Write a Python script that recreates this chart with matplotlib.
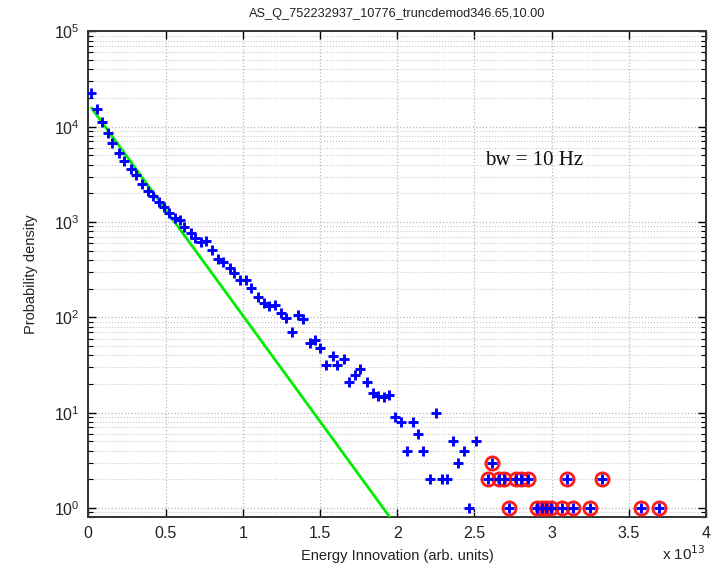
import matplotlib
matplotlib.use("Agg")
import matplotlib.pyplot as plt
from matplotlib.ticker import LogLocator, NullFormatter, FixedLocator

# ---- data (x in units of 1e13) ----
energy = [0.017, 0.054, 0.089, 0.128, 0.154, 0.201, 0.233, 0.275, 0.307, 0.346,
          0.385, 0.421, 0.460, 0.490, 0.525, 0.560, 0.591, 0.622, 0.664, 0.694,
          0.727, 0.762, 0.801, 0.839, 0.872, 0.915, 0.945, 0.983, 1.021, 1.055,
          1.096, 1.135, 1.170, 1.206, 1.248, 1.280, 1.317, 1.360, 1.393, 1.436,
          1.468, 1.501, 1.540, 1.583, 1.613, 1.656, 1.689, 1.727, 1.760, 1.803,
          1.842, 1.876, 1.912, 1.948, 1.986, 2.023, 2.062, 2.101, 2.137, 2.170,
          2.213, 2.252, 2.289, 2.325, 2.360, 2.396, 2.435, 2.468, 2.509, 2.587,
          2.613, 2.662, 2.694, 2.727, 2.770, 2.803, 2.846, 2.904, 2.937, 2.964,
          2.997, 3.066, 3.098, 3.141, 3.249, 3.329, 3.582, 3.696]
density = [22400, 15450, 11120, 8530, 6700, 5260, 4370, 3610, 3120, 2510,
           2130, 1880, 1640, 1450, 1236, 1096, 1052, 895, 760, 681,
           611, 626, 504, 407, 380, 332, 290, 245, 249, 205,
           164, 141, 133, 135, 110, 98, 71, 106, 96, 54.4,
           58, 47.5, 31.8, 39.5, 31.8, 36.5, 21.2, 25, 28.6, 20.9,
           16.0, 15.0, 14.5, 15.2, 9, 8, 4, 8, 6, 4,
           2, 10, 2, 2, 5, 3, 4, 1, 5, 2,
           3, 2, 2, 1, 2, 2, 2, 1, 1, 1,
           1, 1, 2, 1, 1, 2, 1, 1]
outlier_energy = [2.587, 2.613, 2.662, 2.694, 2.727, 2.770, 2.803, 2.846, 2.904, 2.937,
                  2.964, 2.997, 3.066, 3.098, 3.141, 3.249, 3.329, 3.582, 3.696]
outlier_density = [2, 3, 2, 2, 1, 2, 2, 2, 1, 1,
                   1, 1, 1, 2, 1, 1, 2, 1, 1]
fit_energy = [0.022, 2.0]
fit_density = [15600, 0.63]

title = "AS_Q_752232937_10776_truncdemod346.65,10.00"
xlabel = "Energy Innovation (arb. units)"
ylabel = "Probability density"
annotation = "bw = 10 Hz"
x_ticks = [0, 0.5, 1, 1.5, 2, 2.5, 3, 3.5, 4]
x_ticklabels = ["0", "0.5", "1", "1.5", "2", "2.5", "3", "3.5", "4"]

plt.rcParams['font.family'] = ['Liberation Sans', 'DejaVu Sans']

fig = plt.figure(figsize=(7.27, 5.74), dpi=100)
ax = fig.add_axes([88.3/727, 1-517.3/574, (706-88.3)/727, (517.3-31.3)/574])

ax.plot(fit_energy, fit_density, color='#00ee00', lw=2.0, zorder=3, clip_on=True)
ax.plot(outlier_energy, outlier_density, linestyle='none', marker='o', ms=9.5,
        mfc='none', mec='#ff1a1a', mew=2.0, zorder=4)
ax.plot(energy, density, linestyle='none', marker='+', ms=6.8, mew=2.1,
        color='#0000ff', zorder=5)

ax.set_yscale('log')
ax.set_xlim(0, 4)
ax.set_ylim(0.8, 1e5)
ax.xaxis.set_major_locator(FixedLocator(x_ticks))
ax.set_xticklabels(x_ticklabels)
ax.yaxis.set_major_locator(LogLocator(base=10, numticks=10))
ax.yaxis.set_minor_locator(LogLocator(base=10, subs=range(2, 10), numticks=20))
ax.yaxis.set_minor_formatter(NullFormatter())

ax.grid(True, which='major', axis='both', linestyle=':', color='#b8b8b8', lw=0.9)
ax.grid(True, which='minor', axis='y', linestyle=':', color='#c8c8c8', lw=0.8)
ax.set_axisbelow(True)

ax.tick_params(which='both', direction='in', top=True, right=True,
               labelsize=11.5, colors='black', labelcolor='#222222')
ax.tick_params(which='major', length=6, width=1.0, pad=6)
ax.tick_params(which='minor', length=3.5, width=0.8)
for s in ax.spines.values():
    s.set_linewidth(1.4)
    s.set_color('#333333')

ax.set_title(title, fontsize=9.2, pad=10, color='#222222')
ax.set_xlabel(xlabel, fontsize=10.5, labelpad=6, color='#222222')
ax.set_ylabel(ylabel, fontsize=10.5, labelpad=12, color='#222222')
ax.text(0.642, 0.734, annotation, transform=ax.transAxes, ha='left', va='center',
        fontsize=15, family=['Liberation Serif', 'DejaVu Serif'], color='#111111')
ax.text(1.0, -0.055, r"x 10$^{13}$", transform=ax.transAxes, ha='right', va='top',
        fontsize=11, color='#222222')

fig.savefig("out.png", dpi=100)
